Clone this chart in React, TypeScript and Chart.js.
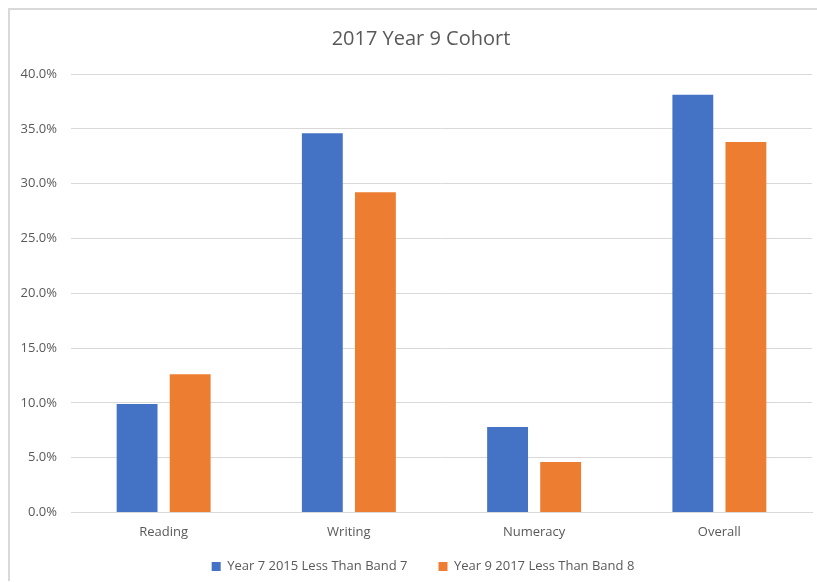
import React, { useEffect, useRef } from "react";
import { Chart, registerables } from "chart.js";

Chart.register(...registerables);

const categories = ["Reading", "Writing", "Numeracy", "Overall"];
const year7Values = [9.9, 34.6, 7.8, 38.1];
const year9Values = [12.6, 29.2, 4.6, 33.8];
const seriesNames = ["Year 7 2015 Less Than Band 7", "Year 9 2017 Less Than Band 8"];
const titleText = "2017 Year 9 Cohort";

const layoutTweak = {
  id: "layoutTweak",
  beforeUpdate(chart: any) {
    const lg = chart.legend;
    if (lg && !lg.__patched) {
      const orig = lg.fit;
      lg.fit = function (this: any) {
        orig.call(this);
        this.height = this.height - 17;
      };
      lg.__patched = true;
    }
  },
  afterLayout(chart: any) {
    const lg = chart.legend;
    if (lg) {
      lg.top -= 15;
      lg.left += 12;
      lg.right += 12;
    }
    const tb = chart.titleBlock;
    if (tb) {
      tb.left += 10;
      tb.right += 10;
    }
  },
};

export default function App() {
  const ref = useRef<HTMLCanvasElement | null>(null);
  useEffect(() => {
    if (!ref.current) return;
    const font = "'Open Sans', 'Noto Sans', sans-serif";
    const chart = new Chart(ref.current, {
      type: "bar",
      data: {
        labels: categories,
        datasets: [
          {
            label: seriesNames[0],
            data: year7Values,
            backgroundColor: "#4472C4",
            borderWidth: 0,
            barPercentage: 0.77,
            categoryPercentage: 0.573,
          },
          {
            label: seriesNames[1],
            data: year9Values,
            backgroundColor: "#ED7D31",
            borderWidth: 0,
            barPercentage: 0.77,
            categoryPercentage: 0.573,
          },
        ],
      },
      options: {
        animation: false,
        responsive: false,
        maintainAspectRatio: false,
        layout: { padding: { left: 0, right: 23, top: 10, bottom: 0 } },
        plugins: {
          title: {
            display: true,
            text: titleText,
            color: "#595959",
            font: { family: font, size: 20, weight: "normal" },
            padding: { top: 7, bottom: 23 },
          },
          legend: {
            position: "bottom",
            labels: {
              color: "#595959",
              font: { family: font, size: 13 },
              boxWidth: 9,
              boxHeight: 9,
              padding: 31,
            },
          },
          tooltip: { enabled: false },
        },
        scales: {
          x: {
            grid: { display: false },
            border: { color: "#d9d9d9", width: 1 },
            ticks: { color: "#595959", font: { family: font, size: 13 }, padding: 4 },
          },
          y: {
            min: 0,
            max: 40,
            afterFit: (s: any) => { s.width = 61; },
            grid: { color: "#d9d9d9", lineWidth: 1, drawTicks: false },
            border: { display: false },
            ticks: {
              stepSize: 5,
              color: "#595959",
              font: { family: font, size: 13 },
              padding: 14,
              callback: (v: any) => Number(v).toFixed(1) + "%",
            },
          },
        },
      },
      plugins: [layoutTweak],
    });
    return () => chart.destroy();
  }, []);
  return (
    <div
      style={{
        position: "absolute",
        left: 8,
        top: 8,
        width: 809,
        height: 573,
        borderLeft: "2px solid #d9d9d9",
        borderTop: "2px solid #d9d9d9",
        background: "#fff",
        boxSizing: "border-box",
        overflow: "hidden",
      }}
    >
      <canvas ref={ref} width={825} height={571} style={{ display: "block" }} />
    </div>
  );
}
